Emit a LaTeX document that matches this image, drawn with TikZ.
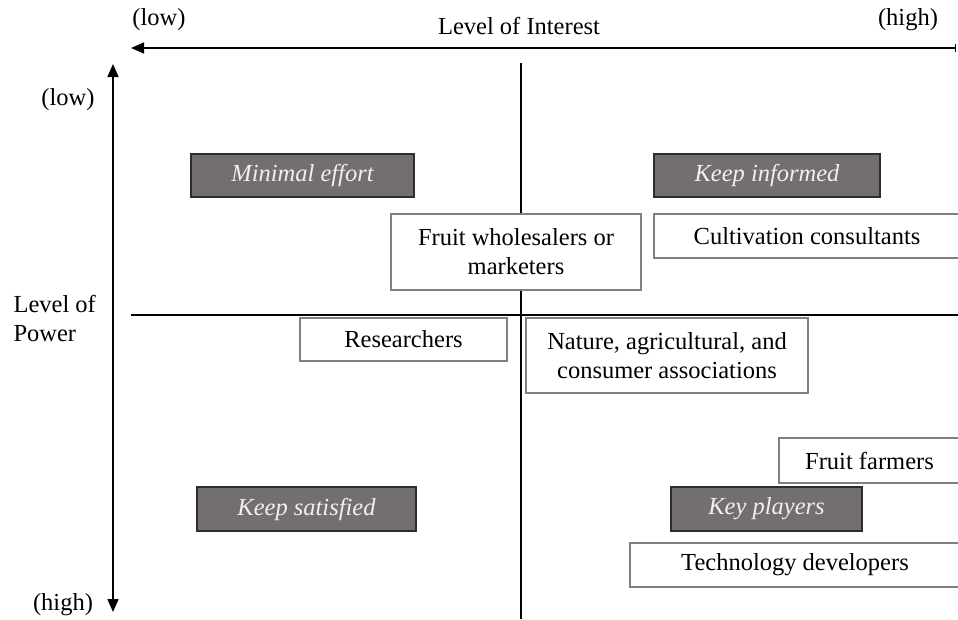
\documentclass[tikz,border=0pt]{standalone}
\usepackage{fontspec}
\setmainfont{Liberation Serif}
\usetikzlibrary{arrows.meta}
\definecolor{darkfill}{RGB}{114,111,110}
\definecolor{darkline}{RGB}{45,45,45}
\definecolor{boxgray}{RGB}{128,128,128}
\definecolor{lighttext}{RGB}{240,240,240}
\newcommand{\labfont}{\fontsize{24.5}{29}\selectfont}
\tikzset{
  every node/.style={font=\labfont},
  axis/.style={line width=1.5, black},
  tipshape/.style={},
  divider/.style={line width=2, black},
  darkbox/.style={draw=darkline, fill=darkfill, line width=2, text=lighttext,
    font=\labfont\itshape, inner sep=0, minimum height=43},
  whitebox/.style={draw=boxgray, fill=white, line width=2, inner sep=0, align=center}
}
\begin{document}
\begin{tikzpicture}[x=1pt,y=-1pt]
\useasboundingbox (0,0) rectangle (958,619);

% axes
\coordinate (xl) at (131,48);
\coordinate (xr) at (956,48);
\draw[axis, {Triangle[length=13,width=11]}-{Bar[width=8]}] (xl) -- (xr);
\coordinate (yt) at (113,64);
\coordinate (yb) at (113,612);
\draw[axis, {Triangle[length=13,width=11]}-{Triangle[length=13,width=11]}] (yt) -- (yb);

% axis labels
\node (ilow) at (159,20) {(low)};
\node (ititle) at (519,26) {Level of Interest};
\node (ihigh) at (908,20) {(high)};
\node (plow) at (68,100) {(low)};
\node[anchor=west, align=left] (ptitle) at (10,318) {Level of\\Power};
\node (phigh) at (63,605) {(high)};

% quadrant dividers
\coordinate (vt) at (521,63);
\coordinate (vb) at (521,619);
\coordinate (hl) at (131,315);
\coordinate (hr) at (958,315);
\draw[divider] (vt) -- (vb);
\draw[divider] (hl) -- (hr);

% quadrant titles
\node[darkbox, minimum width=223] (minimal) at (302.5,175.5) {Minimal effort};
\node[darkbox, minimum width=226] (informed) at (767,175.5) {Keep informed};
\node[darkbox, minimum width=219, minimum height=44] (satisfied) at (306.5,509) {Keep satisfied};
\node[darkbox, minimum width=191, minimum height=44] (key) at (766.5,509) {Key players};

% stakeholders
\node[whitebox, minimum width=250, minimum height=76] (wholesale) at (516,252) {Fruit wholesalers or\\marketers};
\node[whitebox, minimum width=306, minimum height=44] (consult) at (807,236) {Cultivation consultants};
\node[whitebox, minimum width=207, minimum height=43] (research) at (403.5,339.5) {Researchers};
\node[whitebox, minimum width=282, minimum height=75] (assoc) at (667,355.5) {Nature, agricultural, and\\consumer associations};
\node[whitebox, minimum width=181, minimum height=45] (farmers) at (869.5,460.5) {Fruit farmers};
\node[whitebox, minimum width=330, minimum height=44] (tech) at (795,565) {Technology developers};
\end{tikzpicture}
\end{document}
